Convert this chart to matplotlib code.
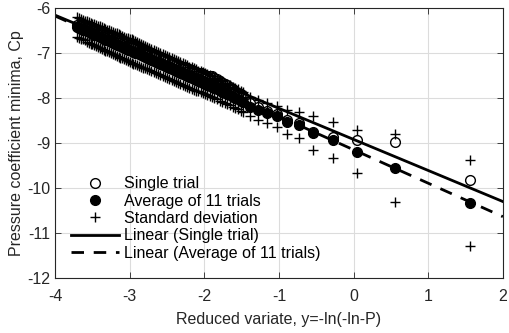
import matplotlib

matplotlib.use("Agg")
import matplotlib.pyplot as plt
import numpy as np

# reduced variate positions (dense part then sparse upper tail)
x_vals = [-3.700, -3.675, -3.650, -3.625, -3.600, -3.575, -3.550, -3.525, -3.500, -3.475,
          -3.450, -3.425, -3.400, -3.375, -3.350, -3.325, -3.300, -3.275, -3.250, -3.225,
          -3.200, -3.175, -3.150, -3.125, -3.100, -3.075, -3.050, -3.025, -3.000, -2.975,
          -2.950, -2.925, -2.900, -2.875, -2.850, -2.825, -2.800, -2.770, -2.740, -2.710,
          -2.680, -2.650, -2.620, -2.590, -2.560, -2.530, -2.500, -2.470, -2.440, -2.410,
          -2.380, -2.350, -2.320, -2.290, -2.260, -2.230, -2.200, -2.170, -2.140, -2.110,
          -2.080, -2.050, -2.020, -1.990, -1.960, -1.930, -1.900, -1.865, -1.830, -1.795,
          -1.760, -1.725, -1.690, -1.655, -1.620, -1.585, -1.550, -1.515, -1.480,
          -1.39, -1.28, -1.165, -1.03, -0.89, -0.73, -0.54, -0.27, 0.05, 0.55, 1.56]

single_trial = [-6.38, -6.395, -6.41, -6.425, -6.44, -6.455, -6.47, -6.485, -6.50, -6.515,
                -6.53, -6.55, -6.57, -6.585, -6.60, -6.615, -6.63, -6.645, -6.66, -6.68,
                -6.70, -6.715, -6.73, -6.745, -6.76, -6.78, -6.80, -6.815, -6.83, -6.845,
                -6.86, -6.875, -6.89, -6.905, -6.92, -6.94, -6.96, -6.98, -7.00, -7.02,
                -7.04, -7.06, -7.08, -7.10, -7.12, -7.14, -7.16, -7.18, -7.20, -7.22,
                -7.24, -7.26, -7.28, -7.30, -7.32, -7.34, -7.36, -7.38, -7.40, -7.42,
                -7.44, -7.455, -7.47, -7.485, -7.50, -7.51, -7.52, -7.55, -7.58, -7.62,
                -7.66, -7.69, -7.72, -7.76, -7.80, -7.84, -7.88, -7.915, -7.95,
                -8.10, -8.20, -8.28, -8.36, -8.48, -8.55, -8.76, -8.87, -8.93, -8.97, -9.82]

avg_11 = [-6.42, -6.44, -6.46, -6.48, -6.50, -6.52, -6.54, -6.56, -6.58, -6.595,
          -6.61, -6.63, -6.65, -6.67, -6.69, -6.705, -6.72, -6.74, -6.76, -6.78,
          -6.80, -6.815, -6.83, -6.85, -6.87, -6.89, -6.91, -6.925, -6.94, -6.96,
          -6.98, -6.995, -7.01, -7.03, -7.05, -7.07, -7.09, -7.11, -7.13, -7.155,
          -7.18, -7.20, -7.22, -7.245, -7.27, -7.29, -7.31, -7.335, -7.36, -7.38,
          -7.40, -7.425, -7.45, -7.47, -7.49, -7.515, -7.54, -7.56, -7.58, -7.60,
          -7.62, -7.64, -7.66, -7.68, -7.70, -7.725, -7.75, -7.775, -7.80, -7.83,
          -7.86, -7.885, -7.91, -7.94, -7.97, -8.00, -8.03, -8.06, -8.09,
          -8.19, -8.27, -8.34, -8.41, -8.53, -8.60, -8.78, -8.93, -9.19, -9.56, -10.33]

std_11 = [0.22, 0.22, 0.22, 0.22, 0.22, 0.225, 0.23, 0.23, 0.23, 0.23,
          0.23, 0.235, 0.24, 0.24, 0.24, 0.24, 0.24, 0.245, 0.25, 0.25,
          0.25, 0.25, 0.25, 0.25, 0.25, 0.25, 0.25, 0.255, 0.26, 0.26,
          0.26, 0.26, 0.26, 0.26, 0.26, 0.255, 0.25, 0.25, 0.25, 0.25,
          0.25, 0.25, 0.25, 0.25, 0.25, 0.245, 0.24, 0.24, 0.24, 0.24,
          0.24, 0.24, 0.24, 0.24, 0.24, 0.24, 0.24, 0.24, 0.24, 0.235,
          0.23, 0.23, 0.23, 0.23, 0.23, 0.23, 0.23, 0.23, 0.23, 0.23,
          0.23, 0.225, 0.22, 0.22, 0.22, 0.22, 0.22, 0.22, 0.22,
          0.22, 0.22, 0.22, 0.23, 0.27, 0.28, 0.37, 0.40, 0.48, 0.75, 0.96]

# linear fits: slope, intercept
fit_single = (-0.69, -8.92)
fit_avg = (-0.743, -9.15)
fit_x = [-4, 2]

plt.rcParams["font.family"] = ["Liberation Sans", "DejaVu Sans"]
plt.rcParams["axes.unicode_minus"] = False

x = np.array(x_vals)
avg = np.array(avg_11)
std = np.array(std_11)
fx = np.array(fit_x)

fig = plt.figure(figsize=(5.1, 3.33), dpi=100)
ax = fig.add_axes([0.108, 0.165, 0.878, 0.811])

ax.plot(x, single_trial, "o", ms=7, mfc="none", mec="black", mew=1.0, label="Single trial")
ax.plot(x, avg, "o", ms=7, mfc="black", mec="black", mew=1.0, label="Average of 11 trials")
ax.plot(x, avg + std, "+", ms=7, color="black", mew=1.0, label="Standard deviation")
ax.plot(x, avg - std, "+", ms=7, color="black", mew=1.0)
ax.plot(fx, fit_single[0] * fx + fit_single[1], "-", color="black", lw=2.0,
        label="Linear (Single trial)")
ax.plot(fx, fit_avg[0] * fx + fit_avg[1], color="black", lw=2.0,
        linestyle=(0, (4.5, 3.5)), label="Linear (Average of 11 trials)")

ax.set_xlim(-4, 2)
ax.set_ylim(-12, -6)
ax.set_xticks(range(-4, 3))
ax.set_yticks(range(-12, -5))
ax.grid(True, color="#dcdcdc", lw=0.8)
ax.set_axisbelow(True)
ax.tick_params(direction="in", top=True, right=True, labelsize=11.5,
               colors="#262626", length=4, width=0.6)
ax.tick_params(axis="x", pad=8)
for s in ax.spines.values():
    s.set_color("#262626")
    s.set_linewidth(0.8)

ax.set_xlabel("Reduced variate, y=-ln(-ln-P)", fontsize=11.5, color="#262626", labelpad=6)
ax.set_ylabel("Pressure coefficient minima, Cp", fontsize=11.5, color="#262626", labelpad=2)

ax.legend(loc="lower left", bbox_to_anchor=(0.022, 0.04), frameon=False, fontsize=11.5,
          handlelength=3.0, handletextpad=0.3, labelspacing=0.15, borderaxespad=0.2,
          borderpad=0.2)

fig.savefig("out.png", dpi=100)
